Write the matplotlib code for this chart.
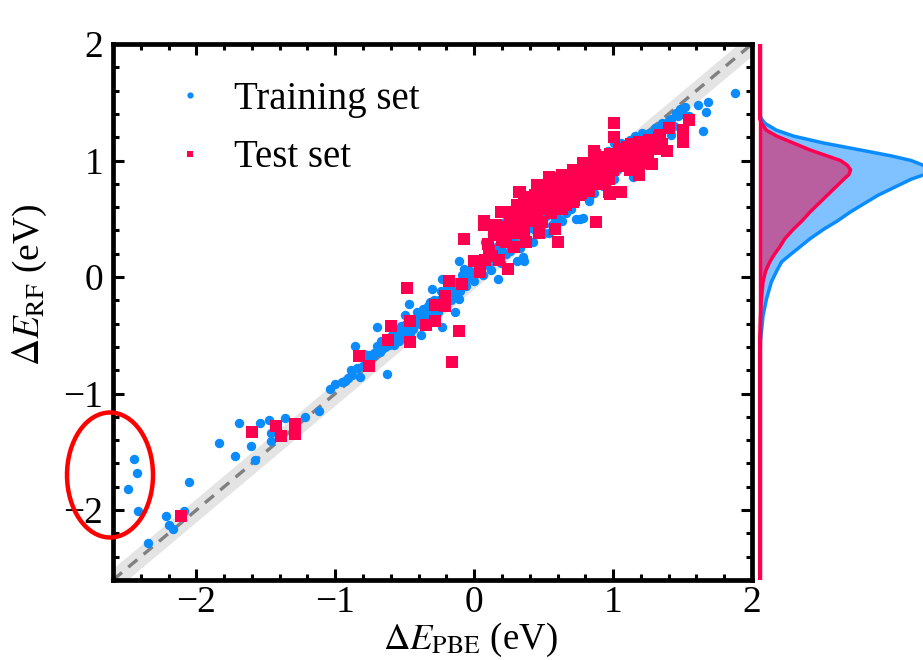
import matplotlib
matplotlib.use("Agg")
import matplotlib.pyplot as plt
from matplotlib.lines import Line2D
from matplotlib.patches import Ellipse
import numpy as np

plt.rcParams['font.family'] = ['Liberation Serif', 'DejaVu Serif']
plt.rcParams['mathtext.fontset'] = 'stix'

# ---------------- data ----------------
train_x = [-2.45, -2.43, -2.49, -2.42, -2.35, -2.22, -2.20, -2.17, -2.09, -2.05,
           -1.84, -1.72, -1.69, -1.61, -1.58, -1.54, -1.48, -1.46, -1.46, -1.36,
           -1.22, -1.12, -1.04, -1.00, -0.93, -0.91, -0.89, -0.86, -0.82, -0.79,
           -0.70, -0.68, -0.63, -0.59, -0.54, -0.50, -0.47, -0.70, -0.66, -0.73,
           -0.77, -0.75, -0.72, -0.64, -0.61, -0.57, -0.55, -0.52, -0.48, -0.45,
           -0.43, -0.40, -0.38, -0.37, -0.34, -0.32, -0.30, -0.30, -0.27, -0.25,
           -0.23, -0.23, -0.21, -0.18, -0.16, -0.14, -0.12, -0.11, -0.10, -0.07,
           -0.11, -0.07, -0.04, -0.01, 0.04, 0.02, 0.05, 0.08, 0.10, 0.13,
           0.15, 0.17, 0.20, 0.22, 0.25, 0.27, 0.31, 0.32, 0.36, 0.37,
           0.35, 0.47, 0.42, 0.52, 0.58, 0.62, 0.70, 0.76, 0.78, 0.83,
           0.88, 0.92, 0.95, 1.01, 1.06, 1.12, 1.16, 1.21, 1.26, 1.30,
           1.35, 1.40, 1.45, 1.48, 1.52, 1.55, 1.61, 1.68, 1.67, 1.65,
           1.88, 1.42, 1.14, 1.21, 0.63, 0.58, 1.00, 1.10, 1.25, 1.33,
           1.38, 1.44, 0.80, 0.90, 1.05, 1.15, 0.75, 0.65, 0.42, 0.54,
           0.73, 0.83, 1.01, 0.99, 0.61, -0.65, -0.35, -0.20, 0.00, 0.12,
           -0.95, -0.88, -0.84, -0.80, -0.76, -0.69, -0.67, -0.62, -0.58, -0.56,
           -0.53, -0.49, -0.46, -0.44, -0.41, -0.39, -0.36, -0.33, -0.31, -0.29,
           -0.26, -0.24, -0.22, -0.19, -0.17, -0.15, -0.13, -0.09, -0.06, -0.03,
           0.00, 0.03, 0.06, 0.09, 0.12, 0.16, 0.19, 0.23, 0.26, 0.29,
           0.33, 0.38, 0.40, 0.44, 0.48, 0.50, 0.56, 0.66, 0.70, 0.86,
           0.93, 0.97, 1.03, 1.08, 1.18, 1.23, 1.28, 1.32, 1.37, 1.42,
           1.47, 1.50, 0.96, 1.03, 1.09]
train_y = [-1.56, -1.68, -1.82, -2.01, -2.28, -2.05, -2.13, -2.16, -2.01, -1.76,
           -1.42, -1.54, -1.25, -1.45, -1.57, -1.25, -1.23, -1.41, -1.34, -1.21,
           -1.20, -1.15, -0.96, -0.92, -0.89, -0.87, -0.80, -0.59, -0.86, -0.66,
           -0.43, -0.64, -0.83, -0.50, -0.55, -0.33, -0.23, -0.59, -0.62, -0.68,
           -0.72, -0.70, -0.65, -0.60, -0.58, -0.53, -0.47, -0.50, -0.46, -0.42,
           -0.38, -0.35, -0.50, -0.27, -0.32, -0.21, -0.10, -0.28, -0.25, -0.20,
           -0.43, -0.02, -0.18, -0.15, -0.10, -0.30, -0.08, -0.19, -0.12, -0.04,
           0.14, 0.07, 0.01, 0.13, 0.15, 0.05, 0.08, 0.30, 0.10, 0.37,
           0.18, -0.02, 0.22, 0.47, 0.28, 0.34, 0.14, 0.50, 0.14, 0.41,
           0.17, 0.65, 0.45, 0.52, 0.55, 0.62, 0.68, 0.50, 0.51, 0.67,
           0.80, 0.85, 0.90, 1.15, 1.15, 1.18, 1.21, 1.24, 1.24, 1.28,
           1.32, 1.35, 1.41, 1.44, 1.46, 1.38, 1.48, 1.50, 1.42, 1.25,
           1.58, 1.22, 0.86, 0.97, 0.48, 0.50, 1.05, 1.08, 1.15, 1.22,
           1.28, 1.30, 0.90, 0.95, 1.00, 1.10, 0.80, 0.72, 0.30, 0.38,
           0.50, 0.65, 0.84, 1.03, 0.50, -0.55, -0.30, -0.12, 0.02, 0.16,
           -0.90, -0.84, -0.78, -0.76, -0.67, -0.62, -0.55, -0.52, -0.58, -0.50,
           -0.42, -0.40, -0.48, -0.45, -0.30, -0.40, -0.34, -0.25, -0.33, -0.20,
           -0.30, -0.12, -0.22, -0.08, -0.20, -0.04, -0.14, 0.02, -0.08, 0.05,
           -0.03, 0.10, 0.02, 0.18, 0.06, 0.26, 0.12, 0.20, 0.22, 0.28,
           0.25, 0.33, 0.42, 0.40, 0.45, 0.38, 0.45, 0.55, 0.58, 0.72,
           0.78, 0.88, 0.92, 1.02, 1.12, 1.18, 1.20, 1.25, 1.30, 1.36,
           1.38, 1.40, 1.08, 1.12, 1.14]

test_x = [-2.11, -1.60, -1.43, -1.39, -1.29, -1.29, -0.83, -0.76, -0.60, -0.62,
          -0.46, -0.46, -0.35, -0.28, -0.48, -0.28, -0.21, -0.21, -0.18, -0.09,
          -0.11, -0.16, -0.07, 0.00, 0.04, 0.07, 0.08, 0.11, 0.18, 0.20,
          0.20, 0.22, 0.24, 0.29, 0.29, 0.32, 0.37, 0.40, 0.07, 0.19,
          0.20, 0.20, 0.27, 0.35, 0.33, 0.38, 0.42, 0.45, 0.49, 0.47,
          0.56, 0.54, 0.58, 0.60, 0.65, 0.68, 0.63, 0.76, 0.73, 0.80,
          0.78, 0.83, 0.87, 0.92, 0.88, 0.97, 0.97, 1.01, 1.04, 1.01,
          1.28, 1.40, 1.39, 1.50, 1.50, 1.55, 1.19, 1.16, 1.06, 0.98,
          0.86, 0.36, 0.32, 0.54, 0.63, 0.71, 0.78, 0.50, 0.52, 0.55,
          0.57, 0.60, 0.62, 0.64, 0.66, 0.68, 0.70, 0.72, 0.74, 0.76,
          0.78, 0.80, 0.82, 0.84, 0.86, 0.88, 0.90, 0.92, 0.94, 0.96,
          0.98, 1.00, 1.02, 1.05, 1.08, 1.10, 1.12, 1.15, 1.18, 1.20,
          1.22, 1.25, 1.28, 1.30, 1.33, 1.35, 1.10, 1.05, 0.95, 0.85,
          0.75, 0.65, 0.55, 0.45, 0.42, 0.48, 0.58,
          0.30, 0.33, 0.36, 0.39, 0.41, 0.44, 0.46, 0.50, 0.52, 0.53,
          0.57, 0.59, 0.61, 0.63, 0.67, 0.69, 0.71, 0.73, 0.75, 0.77,
          0.79, 0.81, 0.83, 0.85, 0.87, 0.89, 0.91, 0.93, 0.95, 0.97,
          0.99, 1.01, 1.03, 1.06, 1.09, 1.11, 1.13, 1.17, 1.19, 1.23,
          1.26, 1.31, 1.34, 1.20, 1.12, 1.25, 0.14, 0.10, 0.16, 0.25,
          0.26, 0.23, 0.13, 0.31, 0.44]
test_y = [-2.05, -1.33, -1.28, -1.36, -1.26, -1.35, -0.68, -0.76, -0.42, -0.54,
          -0.38, -0.56, -0.41, -0.38, -0.09, -0.24, -0.25, -0.16, -0.03, -0.06,
          -0.46, -0.73, 0.33, 0.14, 0.04, 0.48, 0.15, 0.22, 0.15, 0.32,
          0.56, 0.41, 0.07, 0.26, 0.38, 0.56, 0.30, 0.50, 0.45, 0.56,
          0.43, 0.35, 0.56, 0.52, 0.73, 0.68, 0.58, 0.79, 0.47, 0.38,
          0.85, 0.69, 0.41, 0.30, 0.86, 0.69, 0.58, 0.75, 0.90, 0.98,
          0.80, 0.85, 1.05, 1.03, 0.47, 0.73, 0.84, 1.20, 1.09, 1.32,
          0.97, 1.28, 1.08, 1.26, 1.16, 1.35, 0.88, 0.94, 0.73, 0.71,
          1.08, 0.69, 0.73, 0.86, 0.88, 0.92, 0.98, 0.60, 0.70, 0.55,
          0.63, 0.72, 0.66, 0.78, 0.62, 0.80, 0.72, 0.66, 0.84, 0.70,
          0.88, 0.76, 0.92, 0.80, 0.94, 0.86, 0.98, 0.90, 0.82, 0.96,
          1.06, 0.92, 1.00, 0.95, 1.04, 0.98, 1.08, 1.02, 1.12, 1.05,
          1.14, 1.08, 1.16, 1.10, 1.20, 1.14, 1.12, 1.10, 1.00, 0.90,
          0.78, 0.70, 0.62, 0.50, 0.48, 0.62, 0.78,
          0.45, 0.50, 0.40, 0.58, 0.62, 0.55, 0.66, 0.72, 0.58, 0.78,
          0.70, 0.82, 0.60, 0.74, 0.76, 0.86, 0.64, 0.78, 0.92, 0.72,
          0.84, 0.94, 0.74, 0.84, 0.96, 0.80, 0.92, 1.00, 0.86, 1.02,
          0.94, 1.06, 0.96, 1.02, 1.10, 1.02, 1.14, 1.06, 1.16, 1.12,
          1.18, 1.16, 1.22, 0.98, 0.92, 1.00, 0.36, 0.28, 0.45, 0.38,
          0.50, 0.30, 0.18, 0.62, 0.70]

# marginal densities of Delta E_RF (relative widths)
dens_y = [2.00, 1.40, 1.36, 1.32, 1.26, 1.21, 1.15, 1.09, 1.04, 1.00, 0.96, 0.92,
          0.88, 0.84, 0.77, 0.70, 0.63, 0.56, 0.48, 0.41, 0.33, 0.26, 0.19, 0.13,
          0.05, -0.04, -0.19, -0.33, -0.55, -0.80, -2.60]
dens_train = [0.00, 0.00, 0.01, 0.03, 0.10, 0.20, 0.38, 0.60, 0.78, 0.90, 0.97, 1.00,
              0.98, 0.90, 0.80, 0.70, 0.62, 0.54, 0.46, 0.38, 0.30, 0.24, 0.18, 0.13,
              0.10, 0.07, 0.04, 0.02, 0.005, 0.00, 0.00]
dens_test = [0.00, 0.00, 0.00, 0.01, 0.04, 0.10, 0.20, 0.30, 0.40, 0.48, 0.52, 0.54,
             0.53, 0.50, 0.45, 0.40, 0.35, 0.30, 0.25, 0.20, 0.15, 0.12, 0.085, 0.06,
             0.035, 0.02, 0.01, 0.005, 0.00, 0.00, 0.00]

lims = [-2.6, 2.0]
band = 0.1

BLUE = '#0a8cff'
RED = '#ff0050'

W, H = 923, 660
fig = plt.figure(figsize=(W / 100, H / 100), dpi=100)
ax = fig.add_axes([113 / W, 1 - 580 / H, (752 - 113) / W, (580 - 44) / H])

ax.fill_between(lims, [lims[0] - band, lims[1] - band], [lims[0] + band, lims[1] + band],
                color='#e4e4e4', lw=0, zorder=1)
ax.plot(lims, lims, color='#808080', lw=2.4, dashes=(3.5, 2.5), zorder=2)
ax.scatter(train_x, train_y, s=46, marker='o', color=BLUE, lw=0, zorder=3)
ax.scatter(test_x, test_y, s=76, marker='s', color=RED, lw=0, zorder=4)

ax.set_xlim(lims)
ax.set_ylim(lims)
ax.set_xticks([-2, -1, 0, 1, 2])
ax.set_yticks([-2, -1, 0, 1, 2])
ax.set_xticklabels(['\u22122', '\u22121', '0', '1', '2'])
ax.set_yticklabels(['\u22122', '\u22121', '0', '1', '2'])
ax.set_xticks(np.arange(-2.6, 2.01, 0.2), minor=True)
ax.set_yticks(np.arange(-2.6, 2.01, 0.2), minor=True)
ax.tick_params(which='both', direction='in', top=True, right=True, width=2.2, labelsize=27)
ax.tick_params(which='major', length=8, pad=7)
ax.tick_params(axis='x', which='major', pad=4)
ax.tick_params(which='minor', length=4.5)
for sp in ax.spines.values():
    sp.set_linewidth(3.4)

ax.set_xlabel(r'$\Delta E_{\mathrm{PBE}}$ (eV)', fontsize=26.5)
ax.set_ylabel(r'$\Delta E_{\mathrm{RF}}$ (eV)', fontsize=27)
ax.xaxis.set_label_coords(0.56, -0.076)
ax.yaxis.set_label_coords(-0.1, 0.55)

handles = [Line2D([], [], ls='', marker='o', color=BLUE, markersize=4.5, mew=0),
           Line2D([], [], ls='', marker='s', color=RED, markersize=4.5, mew=0)]
ax.legend(handles, ['Training set', 'Test set'], loc='upper left', bbox_to_anchor=(0.065, 0.96),
          frameon=False, fontsize=28, handlelength=1.0, handletextpad=0.65, labelspacing=0.55,
          borderaxespad=0)

# marginal distribution
mx = fig.add_axes([758 / W, 1 - 580 / H, (W - 758) / W, (580 - 44) / H])
mx.fill_betweenx(dens_y, 0, dens_train, color='#80c2ff', lw=0)
mx.plot(dens_train, dens_y, color=BLUE, lw=2.5)
mx.fill_betweenx(dens_y, 0, dens_test, color='#b95fa0', lw=0)
mx.plot(dens_test, dens_y, color=RED, lw=2.5)
mx.axvline(0, color=RED, lw=2.5)
mx.set_ylim(lims)
mx.set_xlim(-0.01, 0.97)
mx.axis('off')

# red highlight ellipse
fig.add_artist(Ellipse((110 / W, 1 - 475 / H), 86 / W, 125 / H, transform=fig.transFigure,
                       fill=False, edgecolor='#ff0000', lw=3.2))

fig.savefig('out.png', dpi=100)
